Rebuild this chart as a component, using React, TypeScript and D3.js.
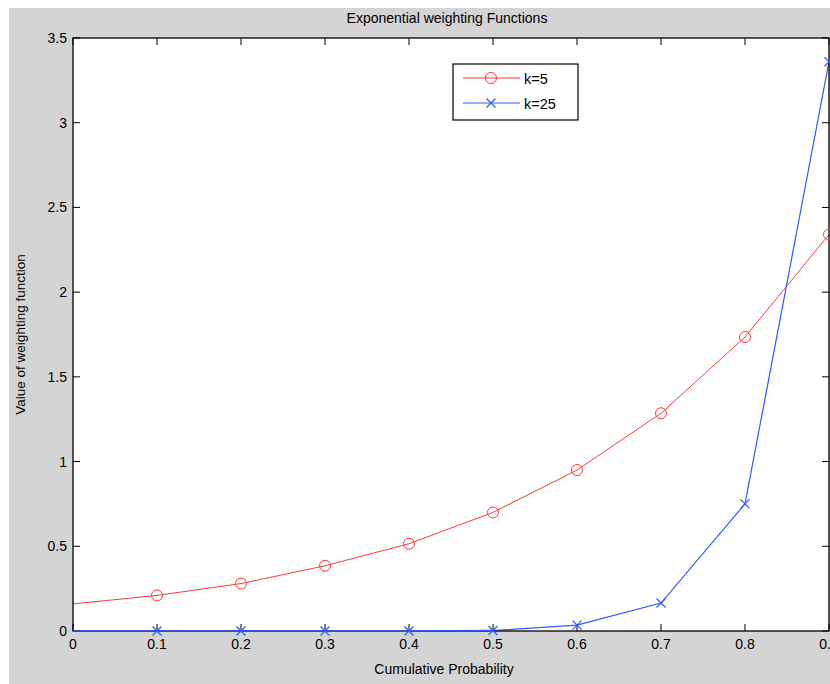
import React from "react";
import * as d3 from "d3";

const xValues = [0, 0.1, 0.2, 0.3, 0.4, 0.5, 0.6, 0.7, 0.8, 0.9];
const k5 = [0.16, 0.21, 0.28, 0.385, 0.515, 0.7, 0.95, 1.285, 1.735, 2.34];
const k25 = [0.0, 0.0, 0.0, 0.0, 0.0, 0.003, 0.035, 0.165, 0.75, 3.36];
const xTicks = [0, 0.1, 0.2, 0.3, 0.4, 0.5, 0.6, 0.7, 0.8, 0.9];
const yTicks = [0, 0.5, 1, 1.5, 2, 2.5, 3, 3.5];
const seriesNames = ["k=5", "k=25"];

const W = 830;
const H = 684;
const L = 73, R = 829, T = 38, B = 631;
const FONT = "'Liberation Sans', Arial, sans-serif";
const RED = "#ff3a3a";
const BLUE = "#2f5bff";

export default function App() {
  const x = d3.scaleLinear().domain([0, 0.9]).range([L, R]);
  const y = d3.scaleLinear().domain([0, 3.5]).range([B, T]);
  const line = d3.line<number>().x((_, i) => x(xValues[i])).y((d) => y(d));
  const tl = 7;

  const circle = (cx: number, cy: number, key: string) => (
    <circle key={key} cx={cx} cy={cy} r={5.5} fill="none" stroke={RED} strokeWidth={1} />
  );
  const cross = (cx: number, cy: number, key: string) => (
    <g key={key} stroke={BLUE} strokeWidth={1.2}>
      <line x1={cx - 4.5} y1={cy - 4.5} x2={cx + 4.5} y2={cy + 4.5} />
      <line x1={cx - 4.5} y1={cy + 4.5} x2={cx + 4.5} y2={cy - 4.5} />
    </g>
  );

  return (
    <svg
      width={W}
      height={H}
      style={{ position: "absolute", left: 0, top: 0, display: "block" }}
      fontFamily={FONT}
    >
      <rect x={0} y={0} width={W} height={H} fill="#ffffff" />
      <rect x={9} y={8} width={W - 9} height={H - 8} fill="#d4d4d4" />
      <rect x={L} y={T} width={R - L} height={B - T} fill="#ffffff" />

      <text x={447} y={23} textAnchor="middle" fontSize={14} fill="#000" style={{ fontStretch: "condensed" }}>
        Exponential weighting Functions
      </text>

      <g clipPath="url(#plotclip)">
        <path d={line(k5) || ""} fill="none" stroke={RED} strokeWidth={1} />
        <path d={line(k25) || ""} fill="none" stroke={BLUE} strokeWidth={1.2} />
      </g>
      <defs>
        <clipPath id="plotclip">
          <rect x={L - 2} y={T - 2} width={R - L + 8} height={B - T + 6} />
        </clipPath>
      </defs>

      {/* axes box */}
      <rect x={L} y={T} width={R - L} height={B - T} fill="none" stroke="#000" strokeWidth={1.3} />

      {xTicks.map((t) => (
        <g key={"xt" + t}>
          <line x1={x(t)} x2={x(t)} y1={B} y2={B - tl} stroke="#000" />
          <line x1={x(t)} x2={x(t)} y1={T} y2={T + tl} stroke="#000" />
          <text x={x(t)} y={B + 18} textAnchor="middle" fontSize={14} fill="#000">
            {String(t)}
          </text>
        </g>
      ))}
      {yTicks.map((t) => (
        <g key={"yt" + t}>
          <line x1={L} x2={L + tl} y1={y(t)} y2={y(t)} stroke="#000" />
          <line x1={R} x2={R - tl} y1={y(t)} y2={y(t)} stroke="#000" />
          <text x={L - 6} y={y(t) + 5} textAnchor="end" fontSize={14} fill="#000">
            {String(t)}
          </text>
        </g>
      ))}

      {/* blue line overlaps the bottom axis */}
      <path d={line(k25.slice(0, 6)) || ""} fill="none" stroke={BLUE} strokeWidth={1.6} />

      {xValues.map((v, i) => (i > 0 ? circle(x(v), y(k5[i]), "c" + i) : null))}
      {xValues.map((v, i) => (i > 0 ? cross(x(v), y(k25[i]), "x" + i) : null))}

      <text x={444} y={674} textAnchor="middle" fontSize={14} fill="#000">
        Cumulative Probability
      </text>
      <text
        transform={`translate(25, ${(T + B) / 2}) rotate(-90)`}
        textAnchor="middle"
        fontSize={13.5}
        fill="#000"
      >
        Value of weighting function
      </text>

      {/* legend */}
      <g>
        <rect x={453} y={64} width={125} height={56} fill="#ffffff" stroke="#000" strokeWidth={1.2} />
        <line x1={463} x2={520} y1={78} y2={78} stroke={RED} strokeWidth={1} />
        {circle(491, 78, "lc")}
        <text x={524} y={83.5} fontSize={14.5} fill="#000">{seriesNames[0]}</text>
        <line x1={463} x2={520} y1={103} y2={103} stroke={BLUE} strokeWidth={1.2} />
        {cross(491, 103, "lx")}
        <text x={524} y={108.5} fontSize={14.5} fill="#000">{seriesNames[1]}</text>
      </g>
    </svg>
  );
}
